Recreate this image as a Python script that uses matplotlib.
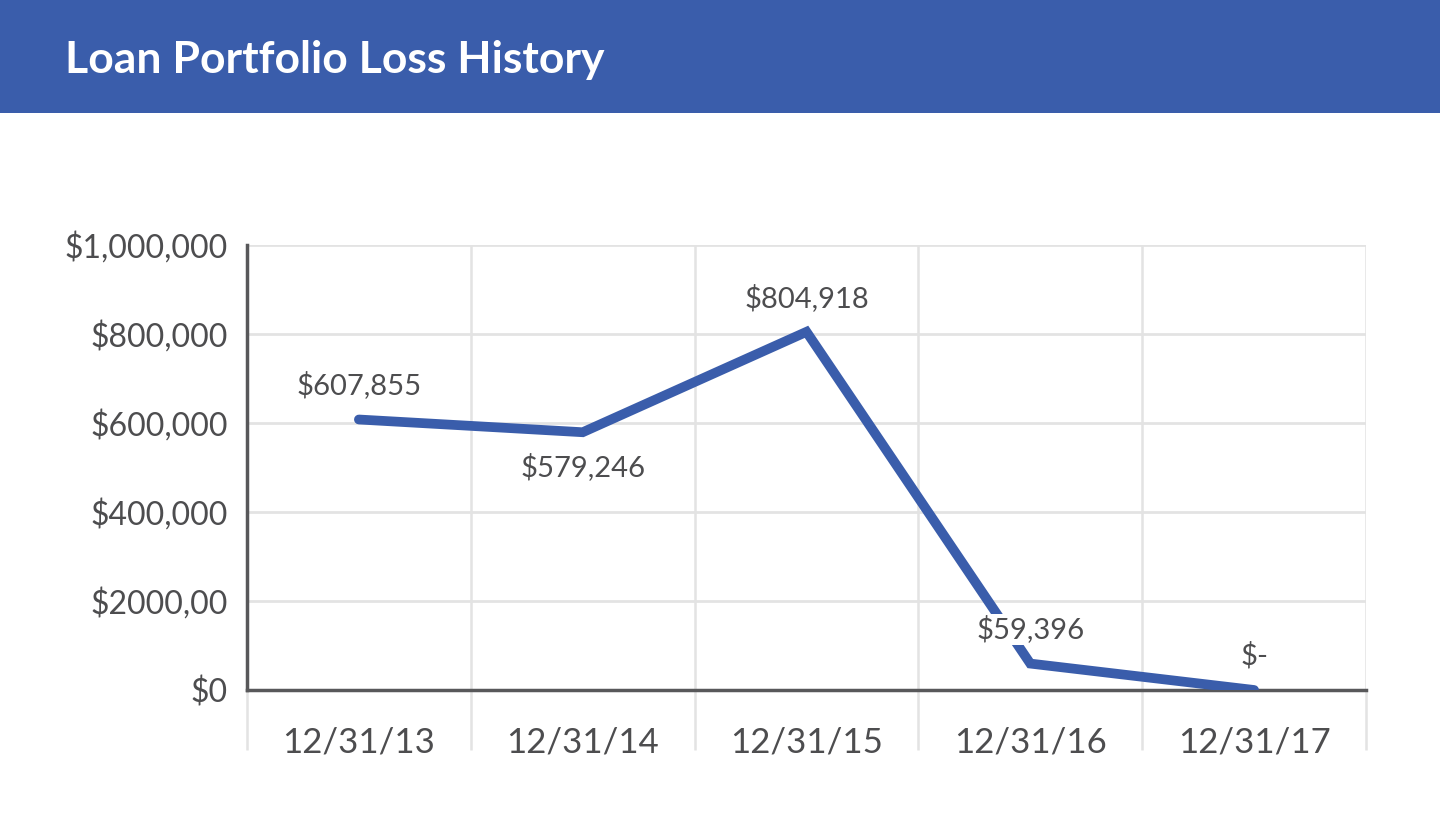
import matplotlib
matplotlib.use("Agg")
import matplotlib.pyplot as plt
from matplotlib.patches import Rectangle
from matplotlib.ticker import FixedLocator

categories = ["12/31/13", "12/31/14", "12/31/15", "12/31/16", "12/31/17"]
values = [607855, 579246, 804918, 59396, 0]
value_labels = ["$607,855", "$579,246", "$804,918", "$59,396", "$-"]
label_above = [True, False, True, True, True]
y_ticks = [0, 200000, 400000, 600000, 800000, 1000000]
y_tick_labels = ["$0", "$2000,00", "$400,000", "$600,000", "$800,000", "$1,000,000"]

BLUE = "#3A5DAB"
TEXT = "#4d4d4f"
GRID = "#e3e3e3"
AXIS = "#58585a"
FONT = ["Lato", "DejaVu Sans"]

plt.rcParams["font.family"] = FONT

fig = plt.figure(figsize=(14.4, 8.35), dpi=100)
fig.patches.append(Rectangle((0, 1 - 113 / 835), 1, 113 / 835, transform=fig.transFigure,
                             facecolor=BLUE, edgecolor="none", zorder=0))
fig.text(65 / 1440, 1 - 60 / 835, "Loan Portfolio Loss History", color="white",
         fontsize=32, fontweight="bold", va="center", ha="left")

ax = fig.add_axes([247 / 1440, 145 / 835, (1366 - 247) / 1440, 445 / 835])
x = list(range(len(categories)))
ax.plot(x, values, color=BLUE, lw=7, solid_joinstyle="miter", solid_capstyle="round", zorder=3)

ax.set_xlim(-0.5, len(categories) - 0.5)
ax.set_ylim(0, 1000000)

ax.set_yticks(y_ticks)
ax.set_yticklabels(y_tick_labels)
ax.set_xticks(x)
ax.set_xticklabels(categories)
ax.xaxis.set_minor_locator(FixedLocator([i - 0.5 for i in range(len(categories) + 1)]))

ax.tick_params(axis="y", length=0, pad=14, labelsize=23, labelcolor=TEXT)
ax.tick_params(axis="x", which="major", length=0, pad=26, labelsize=25, labelcolor=TEXT)
ax.tick_params(axis="x", which="minor", length=43, width=1.8, color=GRID, direction="out")

ax.grid(axis="y", color=GRID, lw=2)
ax.grid(axis="x", which="minor", color=GRID, lw=1.8)
ax.set_axisbelow(True)

ax.spines["right"].set_visible(False)
ax.spines["top"].set_visible(False)
ax.spines["left"].set_color(AXIS)
ax.spines["left"].set_linewidth(2.5)
ax.spines["bottom"].set_color(AXIS)
ax.spines["bottom"].set_linewidth(2.5)
ax.spines["left"].set_zorder(4)
ax.spines["bottom"].set_zorder(2.5)

for xi, v, lab, up in zip(x, values, value_labels, label_above):
    off = 34 if up else -35
    ax.annotate(lab, (xi, v), xytext=(0, off * 0.72), textcoords="offset points",
                ha="center", va="center", fontsize=21, color=TEXT, zorder=5,
                bbox=dict(boxstyle="square,pad=0.05", fc="white", ec="none") if lab == "$59,396" else None)

fig.savefig("out.png", dpi=100, facecolor="white")
